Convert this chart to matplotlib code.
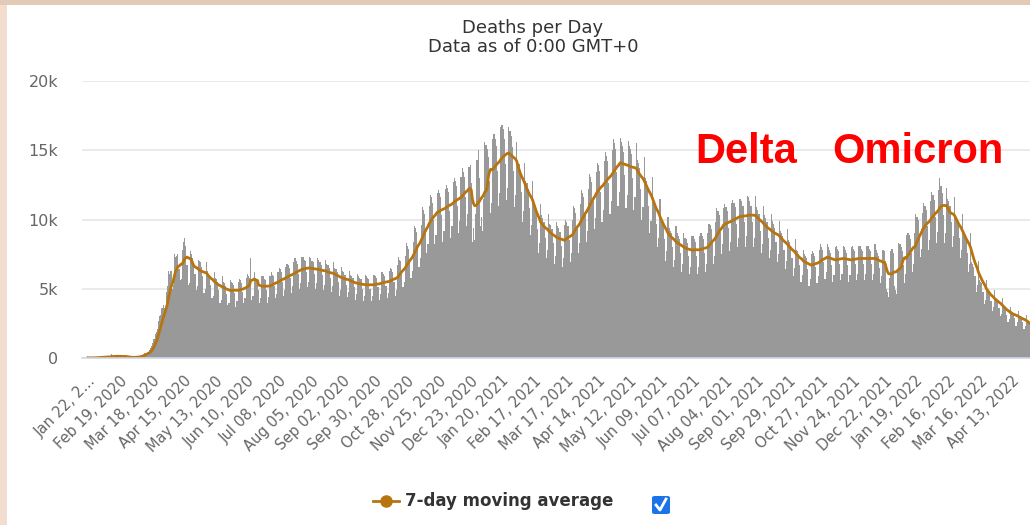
import matplotlib
matplotlib.use("Agg")
import matplotlib.pyplot as plt
from matplotlib.patches import Rectangle, FancyBboxPatch
from matplotlib.lines import Line2D
import numpy as np
import pandas as pd

# daily deaths, one row per week, first day Wed Jan 22, 2020
daily_deaths = [
    17, 0, 8, 16, 14, 26, 26,
    38, 43, 46, 45, 57, 64, 66,
    73, 73, 86, 89, 97, 108, 97,
    254, 13, 143, 142, 105, 98, 136,
    114, 118, 109, 97, 150, 71, 52,
    29, 44, 47, 35, 42, 64, 37,
    84, 100, 105, 100, 120, 230, 200,
    270, 330, 370, 440, 420, 600, 690,
    900, 1100, 1400, 1700, 1900, 2100, 2700,
    3000, 3100, 3600, 3800, 3600, 3700, 4800,
    5200, 6300, 6100, 6300, 5000, 5300, 7500,
    7300, 7400, 7500, 6400, 5600, 5700, 7800,
    8400, 8700, 8100, 6700, 5300, 5400, 7700,
    7500, 7200, 6900, 6100, 4900, 5200, 7100,
    7000, 6900, 6600, 5900, 4700, 5000, 6900,
    6300, 6100, 6000, 5300, 4300, 4500, 6200,
    5800, 5700, 5500, 4900, 4000, 4200, 5900,
    5500, 5400, 5200, 4600, 3800, 4000, 5600,
    5500, 5400, 5300, 4700, 3700, 4100, 5500,
    5700, 5600, 5400, 4800, 4000, 4300, 5800,
    6100, 5900, 5800, 7200, 4200, 4500, 6200,
    5800, 5700, 5600, 4900, 4000, 4300, 5900,
    5900, 5700, 5600, 4900, 4000, 4400, 5900,
    6200, 6000, 5900, 5200, 4300, 4600, 6200,
    6500, 6400, 6200, 5500, 4500, 4900, 6600,
    6800, 6700, 6500, 5800, 4700, 5200, 6900,
    7200, 7000, 6800, 6100, 5000, 5400, 7300,
    7300, 7100, 7000, 6200, 5100, 5500, 7300,
    7200, 7000, 6900, 6100, 5000, 5400, 7200,
    7100, 6900, 6700, 6000, 4900, 5300, 7100,
    6800, 6700, 6500, 5800, 4800, 5200, 6900,
    6500, 6400, 6200, 5500, 4500, 4900, 6600,
    6300, 6200, 6000, 5300, 4400, 4800, 6300,
    6000, 5900, 5800, 5100, 4200, 4600, 6100,
    5900, 5800, 5700, 5000, 4100, 4500, 6000,
    5900, 5800, 5700, 5000, 4100, 4500, 6000,
    6000, 5900, 5800, 5100, 4200, 4600, 6200,
    6200, 6100, 5900, 5200, 4300, 4700, 6300,
    6500, 6400, 6200, 5500, 4500, 4900, 6700,
    7300, 7100, 7000, 6200, 5100, 5500, 7400,
    8300, 8100, 7900, 7000, 5800, 6300, 8400,
    9500, 9400, 9100, 8100, 6600, 7200, 9600,
    10900, 10700, 10400, 9200, 7600, 8200, 11000,
    11800, 11600, 11200, 10000, 8200, 8900, 11900,
    12100, 11900, 11600, 10300, 8400, 9200, 12200,
    12500, 12300, 12000, 10600, 8700, 9500, 12700,
    13000, 12800, 12400, 11000, 9000, 9900, 13100,
    13700, 13400, 13100, 11600, 9500, 10400, 13800,
    13900, 12600, 8400, 9400, 8500, 10400, 14300,
    15000, 13000, 9500, 10200, 9200, 11500, 15600,
    15400, 15100, 14500, 12800, 10500, 11200, 15800,
    16200, 15800, 15300, 13500, 11000, 11900, 16700,
    16800, 16500, 15800, 14000, 11400, 12300, 16700,
    16400, 16000, 15200, 13500, 10900, 11800, 15600,
    14300, 14000, 13500, 12000, 9800, 10600, 14100,
    12800, 12600, 12200, 10800, 8900, 9600, 12800,
    11000, 10800, 10500, 9300, 7600, 8300, 11100,
    10300, 10100, 9800, 8700, 7200, 7800, 10400,
    9700, 9600, 9300, 8300, 6800, 7400, 9800,
    9500, 9400, 9100, 8100, 6600, 7200, 9600,
    10000, 9800, 9500, 8500, 6900, 7600, 10000,
    11000, 10800, 10500, 9300, 7600, 8300, 11100,
    12100, 11900, 11600, 10300, 8400, 9200, 12200,
    13300, 13100, 12700, 11300, 9300, 10100, 13400,
    14100, 13900, 13500, 12000, 9800, 10700, 14200,
    14900, 14600, 14200, 12600, 10400, 11300, 15000,
    15800, 15500, 15100, 13400, 11000, 12000, 15900,
    15600, 15300, 14900, 13200, 10800, 11800, 15700,
    15300, 15100, 14700, 13000, 10700, 11600, 15500,
    14300, 14100, 13700, 12200, 10000, 10900, 14500,
    13000, 12800, 12400, 11000, 9000, 9900, 13100,
    11400, 11200, 10900, 9700, 8000, 8700, 11500,
    10100, 9900, 9600, 8600, 7000, 7700, 10200,
    9400, 9200, 9000, 8000, 6600, 7100, 9500,
    9000, 8800, 8600, 7600, 6200, 6800, 9000,
    8700, 8600, 8300, 7400, 6100, 6600, 8800,
    8800, 8600, 8400, 7400, 6100, 6600, 8800,
    9000, 8800, 8600, 7600, 6200, 6800, 9000,
    9700, 9600, 9300, 8300, 6800, 7400, 9800,
    10800, 10600, 10300, 9100, 7500, 8200, 10800,
    11100, 10900, 10600, 9400, 7700, 8400, 11200,
    11400, 11200, 10900, 9700, 8000, 8700, 11500,
    11500, 11300, 11000, 9800, 8000, 8800, 11700,
    11600, 11300, 11000, 9800, 8000, 8700, 11700,
    10900, 10700, 10400, 9200, 7600, 8200, 11000,
    10300, 10100, 9800, 8700, 7200, 7800, 10400,
    9900, 9700, 9400, 8400, 6900, 7500, 9900,
    9200, 9000, 8800, 7800, 6400, 7000, 9300,
    8500, 8400, 8100, 7200, 5900, 6500, 8600,
    7800, 7700, 7500, 6700, 5500, 6000, 7800,
    7500, 7400, 7200, 6400, 5200, 5700, 7500,
    7700, 7600, 7400, 6600, 5400, 5900, 7800,
    8200, 8000, 7800, 6900, 5700, 6200, 8200,
    8000, 7800, 7600, 6700, 5500, 6000, 8000,
    8100, 7900, 7700, 6800, 5600, 6100, 8100,
    8000, 7800, 7600, 6700, 5500, 6000, 8000,
    8100, 7900, 7700, 6800, 5600, 6100, 8100,
    8100, 7900, 7700, 6800, 5600, 6100, 8100,
    8100, 7900, 7700, 6800, 5600, 6100, 8200,
    7800, 7600, 7400, 6500, 5400, 5900, 7800,
    7700, 7000, 5000, 4800, 4400, 5800, 7700,
    7900, 7600, 5200, 4900, 4600, 6400, 8300,
    8200, 8000, 7700, 6700, 5400, 6100, 8900,
    9000, 8900, 8600, 7600, 6200, 6800, 9000,
    10400, 10200, 10000, 8800, 7300, 7900, 10500,
    11200, 11000, 10700, 9500, 7800, 8500, 11300,
    12000, 11800, 11400, 10200, 8300, 9100, 12100,
    13000, 12400, 11900, 10300, 8300, 9000, 12300,
    11500, 11300, 11000, 9800, 8000, 8800, 11600,
    10300, 10100, 9800, 8700, 7200, 7800, 10400,
    9000, 8800, 8600, 7600, 6200, 6800, 9000,
    6900, 6800, 6600, 5900, 4800, 5300, 7000,
    5600, 5500, 5400, 4800, 3900, 4200, 5600,
    4800, 4700, 4600, 4100, 3400, 3700, 4900,
    4300, 4200, 4100, 3600, 3000, 3200, 4300,
    3700, 3600, 3500, 3100, 2600, 2800, 3700,
    3400, 3300, 3200, 2900, 2300, 2600, 3400,
    3000, 3000, 2900, 2600, 2100, 2300, 3100,
    2600, 2500, 2500, 2200, 1800, 1900, 2600,
    2200, 2000,
]

tick_labels = [
    "Jan 22, 2...", "Feb 19, 2020", "Mar 18, 2020", "Apr 15, 2020",
    "May 13, 2020", "Jun 10, 2020", "Jul 08, 2020", "Aug 05, 2020",
    "Sep 02, 2020", "Sep 30, 2020", "Oct 28, 2020", "Nov 25, 2020",
    "Dec 23, 2020", "Jan 20, 2021", "Feb 17, 2021", "Mar 17, 2021",
    "Apr 14, 2021", "May 12, 2021", "Jun 09, 2021", "Jul 07, 2021",
    "Aug 04, 2021", "Sep 01, 2021", "Sep 29, 2021", "Oct 27, 2021",
    "Nov 24, 2021", "Dec 22, 2021", "Jan 19, 2022", "Feb 16, 2022",
    "Mar 16, 2022", "Apr 13, 2022",
]
tick_step = 28

y_ticks = [0, 5000, 10000, 15000, 20000]
y_tick_labels = ["0", "5k", "10k", "15k", "20k"]

title = "Deaths per Day"
subtitle = "Data as of 0:00 GMT+0"
legend_label = "7-day moving average"
variant_names = ["Delta", "Omicron"]

W, H = 1030, 525
BAR = "#999999"
LINE = "#b8740f"


def fx(px):
    return px / W


def fy(py):
    return 1 - py / H


days = np.arange(len(daily_deaths))
ma7 = pd.Series(daily_deaths, dtype=float).rolling(7, min_periods=1).mean()

fig = plt.figure(figsize=(W / 100, H / 100), dpi=100)
fig.patch.set_facecolor("white")

ax = fig.add_axes([fx(82), fy(358), fx(1030) - fx(82), fy(81) - fy(358)])
ax.bar(days, daily_deaths, width=1.0, color=BAR, linewidth=0)
ax.plot(days, ma7, color=LINE, lw=2.0, solid_joinstyle="round")

px_per_day = 1.13
ax.set_xlim(-6 / px_per_day, (1030 - 88) / px_per_day - 6 / px_per_day)
ax.set_ylim(0, 20000)
ax.set_yticks(y_ticks)
ax.set_yticklabels(y_tick_labels)
ax.grid(axis="y", color="#e6e6e6", lw=1.2)
ax.set_axisbelow(True)
for s in ["top", "right", "left"]:
    ax.spines[s].set_visible(False)
ax.spines["bottom"].set_color("#ccd6eb")
ax.spines["bottom"].set_linewidth(1.2)
ax.tick_params(axis="y", length=0, pad=17, labelcolor="#666666", labelsize=11.5)

ax.set_xticks(np.arange(len(tick_labels)) * tick_step)
ax.set_xticklabels(tick_labels, rotation=45, ha="right", va="top",
                   rotation_mode="anchor")
ax.tick_params(axis="x", length=0, pad=11, labelcolor="#666666", labelsize=10.5)

# titles
fig.text(fx(533), fy(28), title, ha="center", va="center", fontsize=13, color="#333333")
fig.text(fx(533), fy(47), subtitle, ha="center", va="center", fontsize=13, color="#333333")

# variant annotations
fig.text(fx(746), fy(163), variant_names[0], ha="center", va="baseline",
         fontsize=30, fontweight="bold", color="#ff0000", family="Liberation Sans")
fig.text(fx(918), fy(163), variant_names[1], ha="center", va="baseline",
         fontsize=30, fontweight="bold", color="#ff0000", family="Liberation Sans")

# legend
fig.add_artist(Line2D([fx(373), fx(399)], [fy(501), fy(501)], color=LINE, lw=2.0,
                      transform=fig.transFigure))
fig.add_artist(Line2D([fx(386)], [fy(501)], color=LINE, marker="o", markersize=8,
                      transform=fig.transFigure))
fig.text(fx(405), fy(501), legend_label, ha="left", va="center", fontsize=12,
         fontweight="bold", color="#333333")
fig.add_artist(FancyBboxPatch((fx(652), fy(514)), fx(18), 18 / H,
                              boxstyle="round,pad=0,rounding_size=0.003",
                              facecolor="#1a73e8", edgecolor="none",
                              transform=fig.transFigure))
fig.add_artist(Line2D([fx(656), fx(660), fx(666)], [fy(505), fy(510), fy(499)],
                      color="white", lw=2.0, transform=fig.transFigure))

# screenshot frame
fig.add_artist(Rectangle((0, 0), fx(7), 1, facecolor="#f2ddcf", edgecolor="none",
                         transform=fig.transFigure))
fig.add_artist(Rectangle((0, fy(5)), 1, 5 / H, facecolor="#e2cab7", edgecolor="none",
                         transform=fig.transFigure))

fig.savefig("out.png", dpi=100)
